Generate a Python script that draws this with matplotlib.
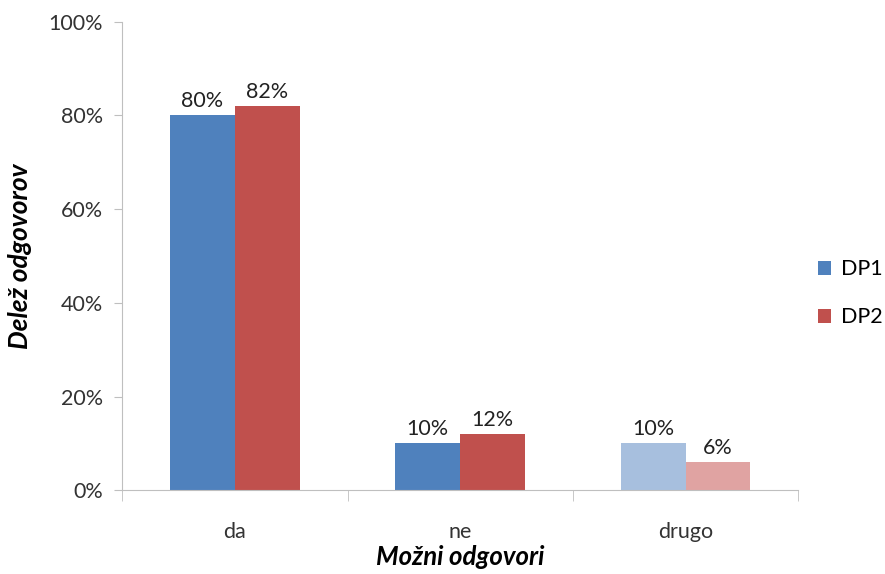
import numpy as np
import matplotlib.pyplot as plt

# Deleži odgovorov po kategorijah
kategorije = ['da', 'ne', 'drugo']
dp1 = [80, 10, 10]
dp2 = [82, 12, 6]
dp1_barve = ['#4F81BD', '#4F81BD', '#A7BFDE']
dp2_barve = ['#C0504D', '#C0504D', '#E0A3A2']
oznake_y = ['0%', '20%', '40%', '60%', '80%', '100%']

plt.rcParams['font.family'] = ['Lato', 'DejaVu Sans']

fig = plt.figure(figsize=(8.85, 5.74), dpi=100)
ax = fig.add_axes([0.138, 0.146, 0.764, 0.816])

x = np.arange(len(kategorije))
w = 0.288
b1 = ax.bar(x - w / 2, dp1, w, color=dp1_barve, label='DP1')
b2 = ax.bar(x + w / 2, dp2, w, color=dp2_barve, label='DP2')

for bars, vals in ((b1, dp1), (b2, dp2)):
    for b, v in zip(bars, vals):
        ax.annotate(f'{v}%', (b.get_x() + b.get_width() / 2, v),
                    xytext=(0, 3), textcoords='offset points',
                    ha='center', va='bottom', fontsize=15.5, color='#222222')

ax.set_xlim(-0.5, 2.5)
ax.set_ylim(0, 100)
ax.set_yticks(np.arange(0, 101, 20))
ax.set_yticklabels(oznake_y)
ax.set_xticks(x)
ax.set_xticklabels(kategorije)
ax.set_xticks([-0.5, 0.5, 1.5, 2.5], minor=True)
ax.tick_params(axis='x', which='major', length=0, pad=23, labelsize=15.5, labelcolor='#333333')
ax.tick_params(axis='x', which='minor', length=8, color='#BFBFBF')
ax.tick_params(axis='y', length=6, color='#BFBFBF', labelsize=15.5, labelcolor='#333333', pad=8)

for s in ('top', 'right'):
    ax.spines[s].set_visible(False)
for s in ('left', 'bottom'):
    ax.spines[s].set_color('#BFBFBF')

ax.set_xlabel('Možni odgovori', fontsize=18.5, fontweight='bold', style='italic', labelpad=2)
ax.set_ylabel('Delež odgovorov', fontsize=19, fontweight='bold', style='italic', labelpad=12)

leg = ax.legend(handles=[b1[0], b2[0]], labels=['DP1', 'DP2'], loc='center left',
                bbox_to_anchor=(1.0, 0.42), frameon=False, fontsize=15.5,
                handlelength=0.6, handleheight=0.6, labelspacing=1.3, handletextpad=0.5)

fig.savefig('out.png', dpi=100)
